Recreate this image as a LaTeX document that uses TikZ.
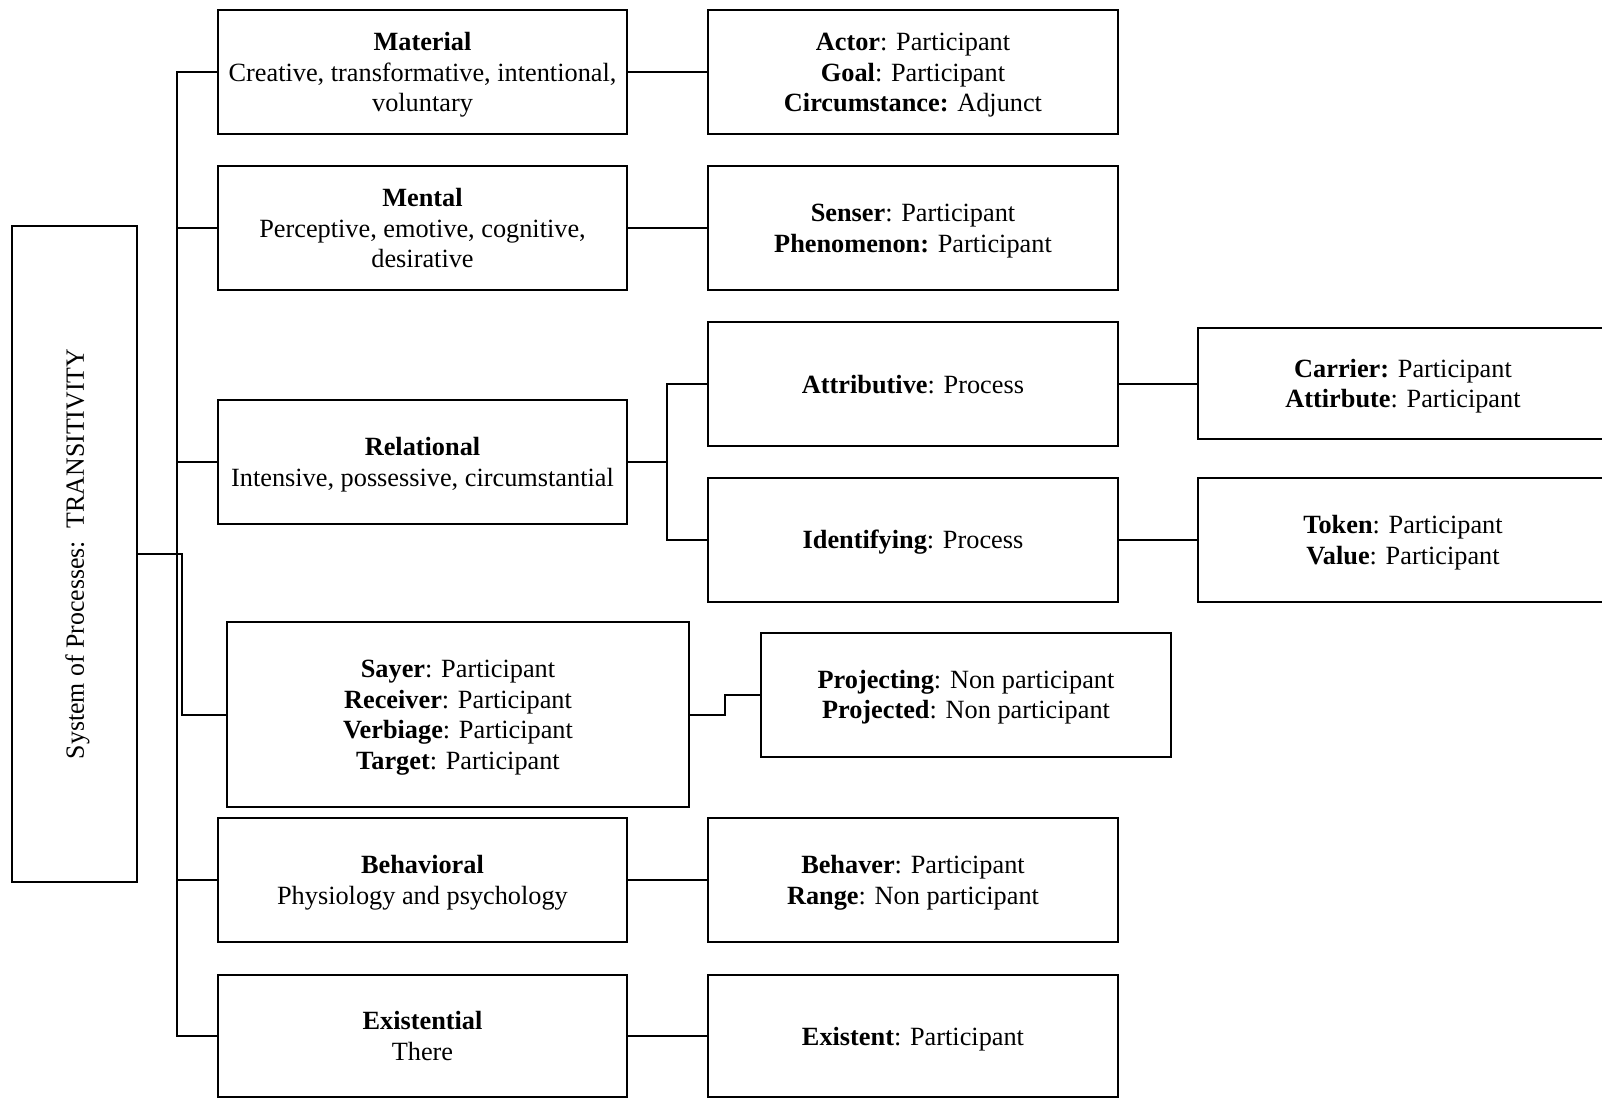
\documentclass[tikz,border=0pt]{standalone}
\usepackage{fontspec}
\setmainfont{Liberation Serif}
\newcommand\fs{\rule{0pt}{12pt}}
\newcommand\ls{\rule[-3pt]{0pt}{3pt}}
\begin{document}
\begin{tikzpicture}[x=0.5pt,y=-0.5pt,
  box/.style={draw,line width=1pt,inner sep=0pt,outer sep=0pt},
  wbox/.style={box,minimum width=204.5pt,minimum height=62pt},
  txt/.style={inner sep=0pt,outer sep=0pt,align=center,
    font=\fontsize{13.15pt}{15.3pt}\selectfont},
  conn/.style={line width=1pt}]
\useasboundingbox (0,0) rectangle (1602,1098);
\clip (0,0) rectangle (1602,1098);
% left box
\node[box,minimum width=62.5pt,minimum height=328pt] (L) at (74.5,554) {};
\node[rotate=90,inner sep=0pt,font=\fontsize{13.15pt}{15.3pt}\selectfont] (Ltxt) at (77.5,554)
  {\scalebox{0.982}[1]{System of Processes:\ \ TRANSITIVITY}};
% middle column
\node[wbox] (material) at (422.5,72) {};
\node[wbox] (mental) at (422.5,228) {};
\node[wbox] (relational) at (422.5,462) {};
\node[box,minimum width=231pt,minimum height=92.5pt] (sayer) at (458,714.5) {};
\node[wbox] (behavioral) at (422.5,880) {};
\node[wbox,minimum height=61pt] (existential) at (422.5,1036) {};
% right column
\node[wbox,minimum width=205pt] (actor) at (913,72) {};
\node[wbox,minimum width=205pt] (senser) at (913,228) {};
\node[wbox,minimum width=205pt] (attributive) at (913,384) {};
\node[wbox,minimum width=205pt] (identifying) at (913,539.5) {};
\node[wbox,minimum width=205pt] (projecting) at (966,694.5) {};
\node[wbox,minimum width=205pt] (behaver) at (913,880) {};
\node[wbox,minimum width=205pt,minimum height=61pt] (existent) at (913,1036) {};
% far right
\node[box,minimum width=205pt,minimum height=55.5pt] (carrier) at (1403,383.5) {};
\node[wbox,minimum width=205pt] (token) at (1403,540) {};
% texts
\node[txt] (materialT) at (material.center) {\fs\textbf{Material}\\Creative, transformative, intentional,\\voluntary\ls};
\node[txt] (mentalT) at (mental.center) {\fs\textbf{Mental}\\Perceptive, emotive, cognitive,\\desirative\ls};
\node[txt] (relationalT) at (relational.center) {\fs\textbf{Relational}\\Intensive, possessive, circumstantial\ls};
\node[txt] (sayerT) at (sayer.center) {\fs\textbf{Sayer}: Participant\\\textbf{Receiver}: Participant\\\textbf{Verbiage}: Participant\\\textbf{Target}: Participant\ls};
\node[txt] (behavioralT) at (behavioral.center) {\fs\textbf{Behavioral}\\Physiology and psychology\ls};
\node[txt] (existentialT) at (existential.center) {\fs\textbf{Existential}\\There\ls};
\node[txt] (actorT) at (actor.center) {\fs\textbf{Actor}: Participant\\\textbf{Goal}: Participant\\\textbf{Circumstance:} Adjunct\ls};
\node[txt] (senserT) at (senser.center) {\fs\textbf{Senser}: Participant\\\textbf{Phenomenon:} Participant\ls};
\node[txt] (attributiveT) at (attributive.center) {\fs\textbf{Attributive}: Process\ls};
\node[txt] (identifyingT) at (identifying.center) {\fs\textbf{Identifying}: Process\ls};
\node[txt] (projectingT) at (projecting.center) {\fs\textbf{Projecting}: Non participant\\\textbf{Projected}: Non participant\ls};
\node[txt] (behaverT) at (behaver.center) {\fs\textbf{Behaver}: Participant\\\textbf{Range}: Non participant\ls};
\node[txt] (existentT) at (existent.center) {\fs\textbf{Existent}: Participant\ls};
\node[txt] (carrierT) at (carrier.center) {\fs\textbf{Carrier:} Participant\\\textbf{Attirbute}: Participant\ls};
\node[txt] (tokenT) at (token.center) {\fs\textbf{Token}: Participant\\\textbf{Value}: Participant\ls};
% connectors
\coordinate (t) at (177,0);
\coordinate (j) at (182,0);
\coordinate (b) at (667,462);
\coordinate (k) at (725,0);
\draw[conn] (material.west) -- (material.west -| t) -- (existential.west -| t) -- (existential.west);
\foreach \n in {mental,relational,behavioral} \draw[conn] (\n.west) -- (\n.west -| t);
\draw[conn] (L.east) -- (L.east -| j) -- (sayer.west -| j) -- (sayer.west);
\draw[conn] (material.east) -- (actor.west);
\draw[conn] (mental.east) -- (senser.west);
\draw[conn] (relational.east) -- (b);
\draw[conn] (attributive.west) -| (b) |- (identifying.west);
\draw[conn] (attributive.east) -- (attributive.east -| carrier.west);
\draw[conn] (identifying.east) -- (identifying.east -| token.west);
\draw[conn] (sayer.east) -- (sayer.east -| k) -- (projecting.west -| k) -- (projecting.west);
\draw[conn] (behavioral.east) -- (behaver.west);
\draw[conn] (existential.east) -- (existent.west);
\end{tikzpicture}
\end{document}
